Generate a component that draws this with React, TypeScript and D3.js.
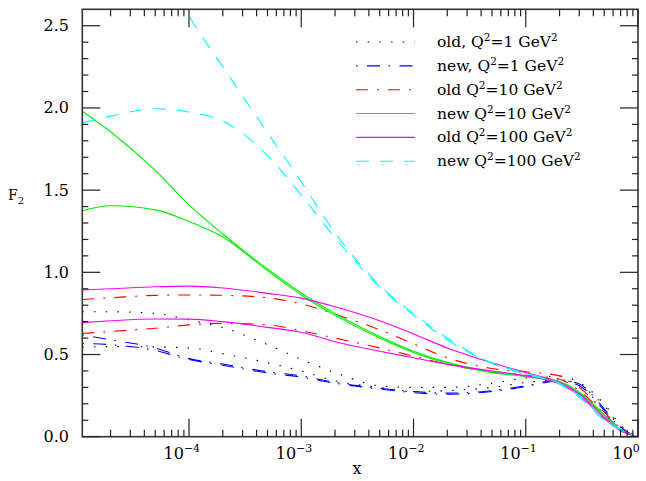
import * as d3 from 'd3'

// x grid shared by most curves
const xGrid = [1.12e-5, 2e-5, 5e-5, 1e-4, 2e-4, 5e-4, 1e-3, 2e-3, 5e-3, 1e-2, 2e-2, 5e-2, 0.1, 0.2, 0.3, 0.5, 0.7, 0.9, 1]

// old, Q^2=1 (black dotted)
const oldQ1a = [0.76, 0.76, 0.75, 0.71, 0.664, 0.56, 0.47, 0.39, 0.31, 0.3, 0.3, 0.325, 0.358, 0.368, 0.33, 0.2, 0.07, 0.015, 0]
const oldQ1b = [0.545, 0.548, 0.546, 0.54, 0.505, 0.45, 0.4, 0.34, 0.3, 0.275, 0.28, 0.3, 0.33, 0.345, 0.31, 0.19, 0.06, 0.012, 0]
// new, Q^2=1 (blue dash-dot)
const newQ1a = [0.62, 0.589, 0.54, 0.475, 0.442, 0.395, 0.37, 0.33, 0.295, 0.275, 0.265, 0.28, 0.31, 0.345, 0.32, 0.17, 0.06, 0.01, 0]
const newQ1b = [0.568, 0.56, 0.525, 0.47, 0.435, 0.388, 0.362, 0.325, 0.29, 0.268, 0.258, 0.275, 0.305, 0.34, 0.31, 0.16, 0.055, 0.01, 0]
// old Q^2=10 (red)
const oldQ10a = [0.835, 0.845, 0.86, 0.862, 0.86, 0.845, 0.808, 0.745, 0.65, 0.565, 0.48, 0.415, 0.395, 0.37, 0.3, 0.15, 0.05, 0.01, 0]
const oldQ10b = [0.628, 0.64, 0.66, 0.68, 0.69, 0.68, 0.645, 0.6, 0.54, 0.49, 0.44, 0.395, 0.375, 0.35, 0.28, 0.14, 0.045, 0.01, 0]
// new Q^2=10 (green)
const newQ10a = [1.98, 1.855, 1.62, 1.41, 1.233, 1.02, 0.874, 0.748, 0.61, 0.52, 0.452, 0.395, 0.37, 0.335, 0.27, 0.135, 0.045, 0.01, 0]
const newQ10b = [1.375, 1.405, 1.38, 1.31, 1.215, 1.01, 0.862, 0.738, 0.6, 0.512, 0.445, 0.39, 0.365, 0.33, 0.265, 0.13, 0.042, 0.01, 0]
// old Q^2=100 (magenta)
const oldQ100a = [0.893, 0.9, 0.912, 0.916, 0.905, 0.872, 0.843, 0.79, 0.705, 0.625, 0.54, 0.45, 0.39, 0.33, 0.26, 0.12, 0.04, 0.008, 0]
const oldQ100b = [0.694, 0.705, 0.716, 0.715, 0.7, 0.665, 0.635, 0.578, 0.52, 0.48, 0.44, 0.4, 0.37, 0.32, 0.25, 0.11, 0.035, 0.008, 0]
// new Q^2=100 (cyan dashed); upper curve enters from above the frame
const newQ100aX = [8e-5, 1e-4, 2e-4, 5e-4, 1e-3, 2e-3, 5e-3, 1e-2, 2e-2, 5e-2, 0.1, 0.2, 0.3, 0.5, 0.7, 0.9, 1]
const newQ100a = [2.68, 2.56, 2.25, 1.85, 1.55, 1.24, 0.92, 0.75, 0.6, 0.45, 0.385, 0.325, 0.25, 0.11, 0.045, 0.01, 0]
const newQ100b = [1.91, 1.95, 1.995, 1.975, 1.92, 1.71, 1.47, 1.21, 0.91, 0.74, 0.59, 0.445, 0.378, 0.32, 0.24, 0.1, 0.04, 0.008, 0]

const legendLabels = ['old, Q', 'new, Q', 'old Q', 'new Q', 'old Q', 'new Q']
const legendValues = ['=1 GeV', '=1 GeV', '=10 GeV', '=10 GeV', '=100 GeV', '=100 GeV']

const yMajor = [0, 0.5, 1, 1.5, 2, 2.5]
const xDecades = [1e-4, 1e-3, 1e-2, 1e-1, 1]
const xDecadeExp = ['−4', '−3', '−2', '−1', '0']

const styles = [
  { color: '#000000', dash: '1.5 10.2' },
  { color: '#0000ff', dash: '1.5 9.5 13 8.5' },
  { color: '#ff0000', dash: '12 9 2 9' },
  { color: '#00ee00', dash: null },
  { color: '#ff00ff', dash: null },
  { color: '#00ffff', dash: '13 11' },
]

const series = [
  { style: 0, xs: xGrid, ys: oldQ1a },
  { style: 0, xs: xGrid, ys: oldQ1b },
  { style: 1, xs: xGrid, ys: newQ1a },
  { style: 1, xs: xGrid, ys: newQ1b },
  { style: 2, xs: xGrid, ys: oldQ10a },
  { style: 2, xs: xGrid, ys: oldQ10b },
  { style: 3, xs: xGrid, ys: newQ10a },
  { style: 3, xs: xGrid, ys: newQ10b },
  { style: 4, xs: xGrid, ys: oldQ100a },
  { style: 4, xs: xGrid, ys: oldQ100b },
  { style: 5, xs: newQ100aX, ys: newQ100a },
  { style: 5, xs: xGrid, ys: newQ100b },
]

const W = 646
const H = 481
const L = 82.3, R = 638, T = 9.3, B = 436.7
const FONT = '"DejaVu Serif", serif'

export default function App() {
  const x = d3.scaleLog().domain([1.12e-5, 1]).range([L, R])
  const y = d3.scaleLinear().domain([0, 2.6]).range([B, T])

  const line = d3.line<[number, number]>()
    .x(d => x(d[0]))
    .y(d => y(d[1]))
    .curve(d3.curveMonotoneX)

  const xTicks = x.ticks().filter(t => t >= 1.12e-5 && t <= 1)
  const isMajorX = (t: number) => Math.abs(Math.log10(t) - Math.round(Math.log10(t))) < 1e-6
  const yTicks = d3.range(0, 26).map(i => i / 10)
  const isMajorY = (t: number) => yMajor.some(m => Math.abs(m - t) < 1e-6)

  const tickColor = '#222'

  return (
    <svg width={W} height={H} style={{ position: 'absolute', left: 0, top: 0, background: '#fff' }}
      fontFamily={FONT}>
      <defs>
        <clipPath id="plot">
          <rect x={L} y={T} width={R - L} height={B - T} />
        </clipPath>
      </defs>

      {/* curves */}
      <g clipPath="url(#plot)" fill="none">
        {series.map((s, i) => (
          <path key={i}
            d={line(s.xs.map((v, j) => [v, s.ys[j]] as [number, number])) || ''}
            stroke={styles[s.style].color}
            strokeWidth={1.1}
            strokeDasharray={styles[s.style].dash || undefined} />
        ))}
      </g>

      {/* frame */}
      <rect x={L} y={T} width={R - L} height={B - T} fill="none" stroke="#333" strokeWidth={1.6} />

      {/* x ticks, bottom and top */}
      {xTicks.map((t, i) => {
        const len = isMajorX(t) ? 18 : 7
        return (
          <g key={'xt' + i} stroke={tickColor} strokeWidth={1.2}>
            <line x1={x(t)} x2={x(t)} y1={B} y2={B - len} />
            <line x1={x(t)} x2={x(t)} y1={T} y2={T + len} />
          </g>
        )
      })}

      {/* y ticks, left and right */}
      {yTicks.map((t, i) => {
        const len = isMajorY(t) ? 18 : 6
        return (
          <g key={'yt' + i} stroke={tickColor} strokeWidth={1.2}>
            <line x1={L} x2={L + len} y1={y(t)} y2={y(t)} />
            <line x1={R} x2={R - len} y1={y(t)} y2={y(t)} />
          </g>
        )
      })}

      {/* y tick labels */}
      {yMajor.map(t => (
        <text key={'yl' + t} x={69} y={y(t) + 5.5} textAnchor="end" fontSize={16} fill="#000">
          {t.toFixed(1)}
        </text>
      ))}

      {/* x tick labels */}
      {xDecades.map((t, i) => (
        <text key={'xl' + i} x={x(t) - 25.5} y={459} fontSize={16} fill="#000">
          10<tspan dy={-7} fontSize={11}>{xDecadeExp[i]}</tspan>
        </text>
      ))}

      {/* axis titles */}
      <text x={357} y={474} textAnchor="middle" fontSize={16}>x</text>
      <text x={8} y={200} fontSize={14}>F<tspan dy={4} fontSize={10}>2</tspan></text>

      {/* legend */}
      {styles.map((s, i) => {
        const ly = 42 + i * 23.85
        return (
          <g key={'lg' + i}>
            <line x1={356} x2={415} y1={ly} y2={ly} stroke={s.color} strokeWidth={1.1}
              strokeDasharray={s.dash || undefined} />
            <text x={437} y={ly + 5} fontSize={15.5} fill="#000">
              {legendLabels[i]}
              <tspan dy={-6} fontSize={10.5}>2</tspan>
              <tspan dy={6}>{legendValues[i]}</tspan>
              <tspan dy={-6} fontSize={10.5}>2</tspan>
            </text>
          </g>
        )
      })}
    </svg>
  )
}
